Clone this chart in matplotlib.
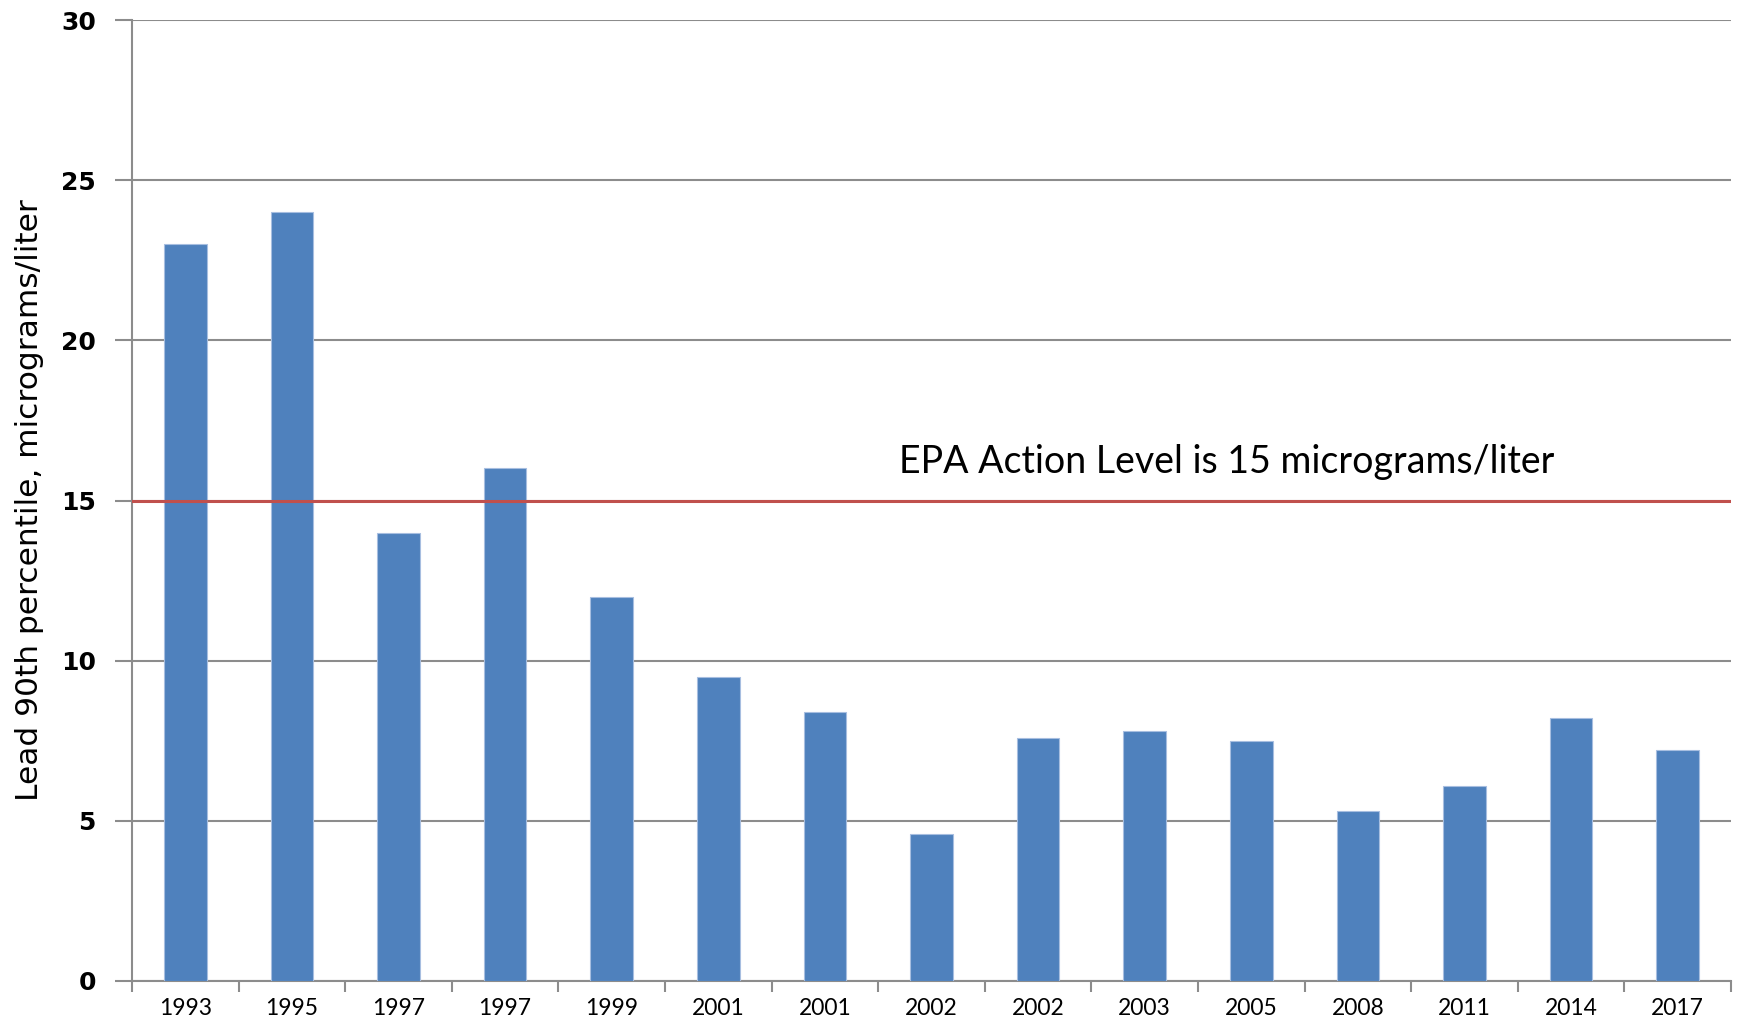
import matplotlib
matplotlib.use("Agg")
import matplotlib.pyplot as plt
import numpy as np

years = ["1993", "1995", "1997", "1997", "1999", "2001", "2001", "2002",
         "2002", "2003", "2005", "2008", "2011", "2014", "2017"]
lead_90th = [23.0, 24.0, 14.0, 16.0, 12.0, 9.5, 8.4, 4.6,
             7.6, 7.8, 7.5, 5.3, 6.1, 8.2, 7.2]
action_level = 15
yticks = [0, 5, 10, 15, 20, 25, 30]

fig = plt.figure(figsize=(17.44, 10.24), dpi=100)
ax = fig.add_axes([132/1744, 43/1024, (1731-132)/1744, (981-20)/1024])

x = np.arange(len(years))
ax.bar(x, lead_90th, width=0.4, color="#4F81BD", edgecolor="#A7BEE0",
       linewidth=0.8, zorder=3)

ax.axhline(action_level, color="#C0504D", linewidth=2.2, zorder=4)
ax.text(9.77, 15.85, "EPA Action Level is 15 micrograms/liter",
        ha="center", va="baseline", fontsize=27, family="Lato", color="black")

ax.set_xlim(-0.5, len(years) - 0.5)
ax.set_ylim(0, 30)
ax.set_yticks(yticks)
ax.set_yticklabels([str(v) for v in yticks], fontsize=18, fontweight="bold",
                   family="DejaVu Sans")
ax.yaxis.grid(True, color="#8C8C8C", linewidth=1.5, zorder=0)
ax.set_axisbelow(True)

# major ticks at category boundaries, labels on minor ticks at centers
ax.set_xticks(np.arange(len(years) + 1) - 0.5)
ax.set_xticklabels([])
ax.set_xticks(x, minor=True)
ax.set_xticklabels(years, minor=True, fontsize=16.5, family="Lato")
ax.tick_params(axis="x", which="major", direction="out", length=8, width=1.5,
               color="#8C8C8C")
ax.tick_params(axis="x", which="minor", length=0, pad=12)
ax.tick_params(axis="y", direction="out", length=12, width=1.5,
               color="#8C8C8C", pad=14)

for s in ["top", "right"]:
    ax.spines[s].set_visible(False)
for s in ["left", "bottom"]:
    ax.spines[s].set_color("#8C8C8C")
    ax.spines[s].set_linewidth(1.5)

ax.set_ylabel("Lead 90th percentile, micrograms/liter", fontsize=22.5,
              family="DejaVu Sans")
ax.yaxis.set_label_coords(-0.055, 0.5)

fig.savefig("out.png", dpi=100, facecolor="white")
